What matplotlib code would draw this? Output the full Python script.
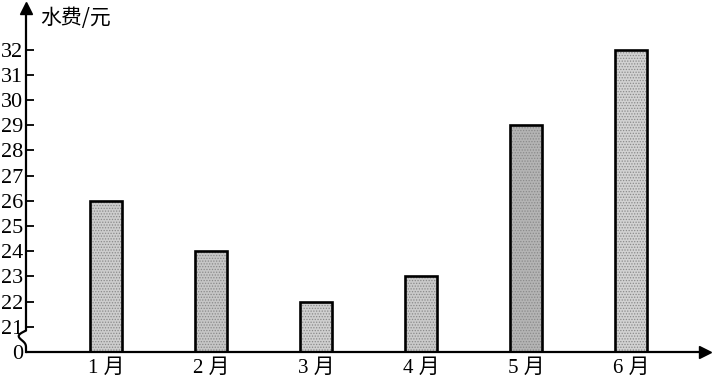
import numpy as np
import matplotlib
matplotlib.use("Agg")
import matplotlib.pyplot as plt

plt.rcParams['font.family'] = ['Liberation Serif', 'Noto Sans CJK SC']
plt.rcParams['hatch.linewidth'] = 0.6

# ---------------------------------------------------------------------------
# Data
# ---------------------------------------------------------------------------
months = ["1 月", "2 月", "3 月", "4 月", "5 月", "6 月"]
fees = [26, 24, 22, 23, 29, 32]
ytick_values = [0] + list(range(21, 33))
ylabel = "水费/元"

BREAK_BASE = 20  # "0" is drawn one step below 21 (broken axis)
shades = ["#cdcdcd", "#c6c6c6", "#cfcfcf", "#cacaca", "#b4b4b4", "#d2d2d2"]

def pos(v):
    return v if v >= 21 else BREAK_BASE

# ---------------------------------------------------------------------------
# Plot
# ---------------------------------------------------------------------------
fig = plt.figure(figsize=(7.15, 3.83), dpi=100)
ax = fig.add_axes([26 / 715, 31 / 383, 686 / 715, 350 / 383])
ax.set_xlim(0.238, 6.77)
ax.set_ylim(BREAK_BASE, 33.89)

x = np.arange(1, len(months) + 1)
heights = [pos(v) - BREAK_BASE for v in fees]

# stippled fill, then black outline
ax.bar(x, heights, bottom=BREAK_BASE, width=0.3, color=shades,
       edgecolor="#8a8a8a", hatch="......", linewidth=0, zorder=2)
ax.bar(x, heights, bottom=BREAK_BASE, width=0.3, fill=False,
       edgecolor="black", linewidth=1.9, zorder=3)

for s in ("top", "right", "left", "bottom"):
    ax.spines[s].set_visible(False)

# x axis with arrow
ax.plot([0.238, 6.70], [BREAK_BASE, BREAK_BASE], color="black", lw=1.6,
        clip_on=False, zorder=4, solid_capstyle="butt")
ax.plot(6.70, BREAK_BASE, marker=">", color="black", markersize=9,
        clip_on=False, zorder=4)

# y axis with break squiggle and arrow
x0 = 0.238
t = np.linspace(0, 1, 40)
sq_y = 20.2 + 0.65 * t
sq_x = x0 - 0.055 * np.sin(np.pi * t) + 0.025 * np.sin(2 * np.pi * t)
ys = np.concatenate([[BREAK_BASE], sq_y, [33.65]])
xs = np.concatenate([[x0], sq_x, [x0]])
ax.plot(xs, ys, color="black", lw=1.6, clip_on=False, zorder=4)
ax.plot(x0, 33.65, marker="^", color="black", markersize=9,
        clip_on=False, zorder=4)

ax.set_yticks([pos(v) for v in ytick_values])
ax.set_yticklabels([str(v) for v in ytick_values])
ax.tick_params(axis="y", direction="in", length=6, width=1.3, pad=2,
               labelsize=16)
ax.set_xticks(x)
ax.set_xticklabels(months)
ax.tick_params(axis="x", length=0, pad=5, labelsize=15)

ax.text(0.37, 33.25, ylabel, fontsize=15, va="center", ha="left",
        family=['Noto Sans CJK SC', 'DejaVu Sans'])

fig.savefig("out.png", dpi=100)
